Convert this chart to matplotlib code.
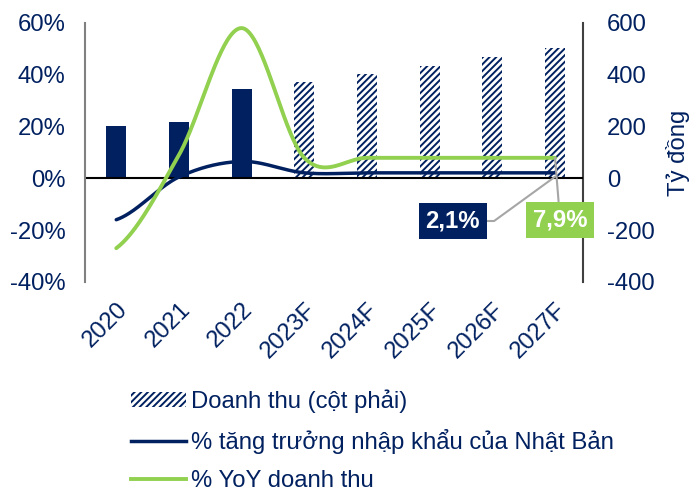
import numpy as np
import matplotlib
matplotlib.use("Agg")
import matplotlib.pyplot as plt
import matplotlib.transforms as mtransforms
from matplotlib.lines import Line2D
from matplotlib.patches import Patch

plt.rcParams['font.family'] = ['Liberation Sans', 'DejaVu Sans']
plt.rcParams['hatch.linewidth'] = 1.4

categories = ["2020", "2021", "2022", "2023F", "2024F", "2025F", "2026F", "2027F"]
revenue = [200, 218, 345, 372, 402, 434, 468, 505]          # Tỷ đồng (right axis)
forecast = [False, False, False, True, True, True, True, True]
import_growth = [-16, 0.5, 6.5, 2.1, 2.1, 2.1, 2.1, 2.1]    # %
yoy_revenue = [-27, 9, 58, 7.9, 7.9, 7.9, 7.9, 7.9]         # %
left_ticks = [-40, -20, 0, 20, 40, 60]
right_ticks = [-400, -200, 0, 200, 400, 600]

NAVY = "#002060"
GREEN = "#92D050"
FS = 17.2


def smooth(y, n=40):
    y = np.asarray(y, float)
    x = np.arange(len(y))
    m = np.zeros_like(y)
    m[1:-1] = (y[2:] - y[:-2]) / 2
    m[0] = (y[1] - y[0]) / 2
    m[-1] = (y[-1] - y[-2]) / 2
    xs, ys = [], []
    for i in range(len(y) - 1):
        t = np.linspace(0, 1, n, endpoint=(i == len(y) - 2))
        h00 = 2 * t**3 - 3 * t**2 + 1
        h10 = t**3 - 2 * t**2 + t
        h01 = -2 * t**3 + 3 * t**2
        h11 = t**3 - t**2
        ys.append(h00 * y[i] + h10 * m[i] + h01 * y[i + 1] + h11 * m[i + 1])
        xs.append(x[i] + t)
    return np.concatenate(xs), np.concatenate(ys)


fig = plt.figure(figsize=(6.96, 4.98), dpi=100)
ax = fig.add_axes([0.122, 0.434, 0.716, 0.520])
ax2 = ax.twinx()

x = np.arange(len(categories))
for xi, v, f in zip(x, revenue, forecast):
    if f:
        ax2.bar(xi, v, width=0.32, color="white", edgecolor=NAVY, hatch="/////", linewidth=0, zorder=1)
    else:
        ax2.bar(xi, v, width=0.32, color=NAVY, linewidth=0, zorder=1)

ax.set_zorder(ax2.get_zorder() + 1)
ax.patch.set_visible(False)

sx, sy = smooth(import_growth)
ax.plot(sx, sy, color=NAVY, lw=2.5, solid_capstyle="round", zorder=3)
sx, sy = smooth(yoy_revenue)
ax.plot(sx, sy, color=GREEN, lw=2.8, solid_capstyle="round", zorder=3)

ax.axhline(0, color="black", lw=1.5, zorder=2)

ax.set_xlim(-0.5, 7.45)
ax.set_ylim(-40, 60)
ax2.set_ylim(-400, 600)
ax.set_yticks(left_ticks)
ax.set_yticklabels([f"{t}%" for t in left_ticks])
ax2.set_yticks(right_ticks)
ax2.set_yticklabels([str(t) for t in right_ticks])
ax.set_xticks(x)
ax.set_xticklabels(categories, rotation=45, ha="right", va="top", rotation_mode="anchor")
offset = mtransforms.ScaledTranslation(-5 / 100, 0, fig.dpi_scale_trans)
for lbl in ax.get_xticklabels():
    lbl.set_transform(lbl.get_transform() + offset)

for a in (ax, ax2):
    for s in ("top", "bottom"):
        a.spines[s].set_visible(False)
    a.tick_params(length=0, labelsize=FS, colors=NAVY)
ax.spines["left"].set_color("#808080")
ax.spines["left"].set_linewidth(1.5)
ax2.spines["left"].set_visible(False)
ax2.spines["right"].set_color("#404040")
ax2.spines["right"].set_linewidth(1.5)
ax.spines["right"].set_visible(False)
ax.tick_params(axis="x", pad=12)
ax.tick_params(axis="y", pad=14)
ax2.tick_params(axis="y", pad=17)
ax2.set_ylabel("Tỷ đồng", fontsize=FS, color=NAVY, labelpad=8)

# data labels with leader lines
ax.annotate("2,1%", xy=(7, import_growth[-1] - 1.5), xytext=(5.37, -16.5),
            ha="center", va="center", fontsize=FS, fontweight="bold", color="white",
            bbox=dict(boxstyle="square,pad=0.28", fc=NAVY, ec="none"),
            arrowprops=dict(arrowstyle="-", color="#A6A6A6", lw=1.5,
                            connectionstyle="angle,angleA=0,angleB=36,rad=0",
                            shrinkA=0, shrinkB=0), zorder=5)
ax.annotate("7,9%", xy=(7, yoy_revenue[-1]), xytext=(7.08, -16),
            ha="center", va="center", fontsize=FS, fontweight="bold", color="white",
            bbox=dict(boxstyle="square,pad=0.28", fc=GREEN, ec="none"),
            arrowprops=dict(arrowstyle="-", color="#A6A6A6", lw=1.5,
                            shrinkA=0, shrinkB=0), zorder=5)

handles = [
    Patch(facecolor="white", edgecolor=NAVY, hatch="/////", linewidth=0),
    Line2D([], [], color=NAVY, lw=2.5),
    Line2D([], [], color=GREEN, lw=2.8),
]
labels = ["Doanh thu (cột phải)", "% tăng trưởng nhập khẩu của Nhật Bản", "% YoY doanh thu"]
leg = fig.legend(handles, labels, loc="lower left", bbox_to_anchor=(0.158, -0.032),
                 frameon=False, fontsize=FS, handlelength=2.3, handleheight=0.6,
                 handletextpad=0.2, labelspacing=0.68)
for t in leg.get_texts():
    t.set_color(NAVY)

fig.savefig("out.png", dpi=100)
